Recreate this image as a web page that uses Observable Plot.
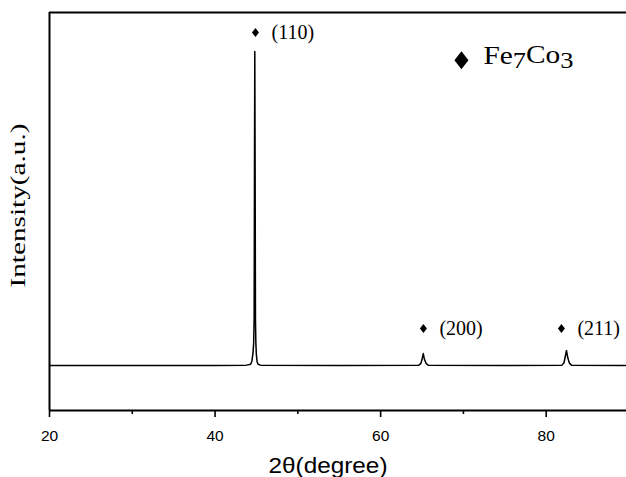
<!DOCTYPE html>
<html><head><meta charset="utf-8">
<script src="https://cdn.jsdelivr.net/npm/d3@7"></script>
<script src="https://cdn.jsdelivr.net/npm/@observablehq/plot@0.6"></script>
<style>body{margin:0;background:#fff;overflow:hidden}</style>
</head><body><div id="chart"></div>
<script>
// XRD pattern (2θ in degrees, intensity in arbitrary units)
const twoTheta = [20, 30, 40, 43.8, 44.3, 44.45, 44.58, 44.66, 44.72, 44.76, 44.8, 44.84, 44.88, 44.93, 44.99, 45.08, 45.2, 45.5,
  55, 64.6, 64.85, 65.0, 65.15, 65.3, 65.5, 65.75, 75, 81.9, 82.15, 82.3, 82.45, 82.6, 82.8, 83.05, 89.7];
const intensity = [113, 113, 113, 114, 116, 124, 145, 168, 230, 600, 902, 600, 229, 168, 140, 122, 116, 114,
  113, 114, 118, 128, 143, 128, 118, 114, 113, 114, 120, 135, 151, 133, 119, 114, 113];

const peakLabels = ["(110)", "(200)", "(211)"];
const peakMarkerX = [44.88, 65.17, 81.84];
const peakMarkerY = [950, 206, 206];

const legendLabel = "Fe7Co3";
const legendX = [69.76];
const legendY = [880];

const majorTicks = [20, 40, 60, 80];
const minorTicks = [30, 50, 70];
const xDomain = [20, 89.7];
const yDomain = [0, 1000];
const xLabel = "2θ(degree)";
const yLabel = "Intensity(a.u.)";

const pattern = twoTheta.map((x, i) => ({x, y: intensity[i]}));
const peaks = peakLabels.map((label, i) => ({label, x: peakMarkerX[i], y: peakMarkerY[i]}));
const legend = [{label: legendLabel, x: legendX[0], y: legendY[0]}];

const diamond = {
  draw(context, size) {
    const h = Math.sqrt(size / Math.PI);
    const w = h * 0.78;
    context.moveTo(0, -h); context.lineTo(w, 0); context.lineTo(0, h); context.lineTo(-w, 0); context.closePath();
  }
};

const serif = "Liberation Serif, Times New Roman, serif";
const sans = "Liberation Sans, Arial, sans-serif";

const plot = Plot.plot({
  width: 626,
  height: 477,
  marginLeft: 49,
  marginRight: 0,
  marginTop: 12,
  marginBottom: 67,
  style: {fontFamily: sans, background: "#fff", color: "#000"},
  x: {domain: xDomain},
  y: {domain: yDomain, axis: null},
  marks: [
    Plot.ruleY([yDomain[1]], {stroke: "#000", strokeWidth: 2}),
    Plot.ruleX([xDomain[0]], {stroke: "#000", strokeWidth: 2}),
    Plot.ruleY([yDomain[0]], {stroke: "#000", strokeWidth: 2}),
    Plot.axisX({ticks: majorTicks, tickSize: 7, tickPadding: 12, strokeWidth: 1.6, fontSize: 15.5, label: null, fontFamily: sans}),
    Plot.axisX({ticks: minorTicks, tickSize: 4, strokeWidth: 1.6, tickFormat: () => "", label: null}),
    Plot.line(pattern, {x: "x", y: "y", stroke: "#000", strokeWidth: 1.5}),
    Plot.dot(peaks, {x: "x", y: "y", symbol: diamond, r: 4.5, fill: "#000", stroke: null}),
    Plot.text(peaks, {x: "x", y: "y", text: "label", dx: 16, textAnchor: "start", fontSize: 20, fontFamily: serif, fill: "#000"}),
    Plot.dot(legend, {x: "x", y: "y", symbol: diamond, r: 9, fill: "#000", stroke: null}),
    Plot.text(legend, {x: "x", y: "y", text: "label", dx: 22, textAnchor: "start", fontSize: 26, fontFamily: serif, fill: "#000"}),
    Plot.text([yLabel], {frameAnchor: "left", rotate: -90, textAnchor: "start", dx: -31, dy: 76, fontSize: 21, fontFamily: serif, fill: "#000"}),
    Plot.text([xLabel], {frameAnchor: "bottom", textAnchor: "start", dx: -69.5, dy: 62, fontSize: 22, fontFamily: sans, fill: "#000"})
  ]
});

const svg = d3.select(plot);
svg.selectAll("text").each(function () {
  const t = d3.select(this);
  const s = t.text();
  if (s === yLabel) t.attr("textLength", 164).attr("lengthAdjust", "spacingAndGlyphs");
  else if (s === xLabel) t.attr("textLength", 119).attr("lengthAdjust", "spacingAndGlyphs");
  else if (s === legendLabel) {
    t.text("");
    const parts = s.match(/[A-Za-z]+|\d+/g);
    parts.forEach(p => {
      const isDigit = /\d/.test(p);
      t.append("tspan").text(p)
        .attr("dy", isDigit ? "0.18em" : (t.selectAll("tspan").size() > 0 ? "-0.18em" : null))
        .attr("font-size", isDigit ? "0.9em" : null);
    });
    t.attr("textLength", 90).attr("lengthAdjust", "spacingAndGlyphs");
  }
});

document.getElementById("chart").appendChild(plot);
</script>
</body></html>
